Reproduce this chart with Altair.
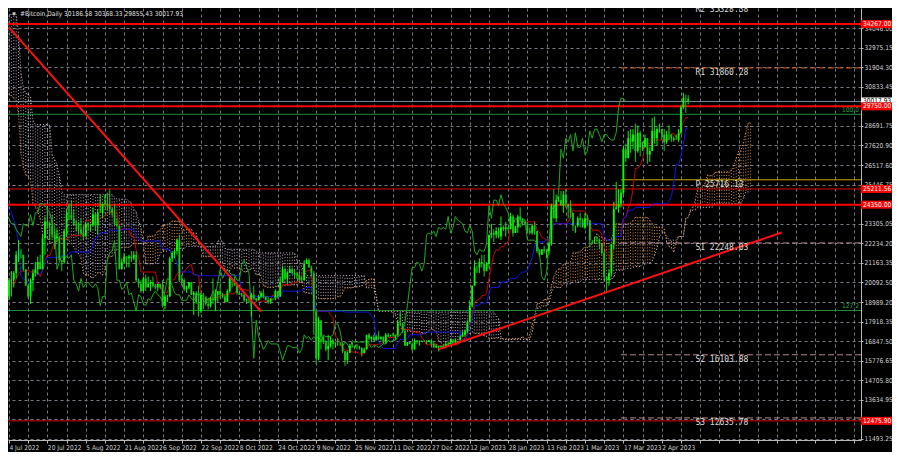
import altair as alt
import pandas as pd

# ---------------- daily bars, thousands of USD: (high, low, close) ----------------
# open of each bar = close of the previous bar (24/7 market)
APR22 = [(40.7,39.6,39.7),(41.0,38.6,40.8),(41.7,40.6,41.5),(42.2,40.9,41.4),(42.9,39.8,40.5),(40.8,39.2,39.7),(39.9,39.4,39.5),
         (39.9,39.0,39.5),(40.6,38.2,40.4),(40.8,37.8,38.1),(39.5,37.9,39.2),(40.4,38.9,39.7),(39.9,38.3,38.6),(38.8,37.6,37.7)]
MAY22 = [(38.7,37.4,38.5),(39.1,38.0,38.5),(38.6,37.5,37.7),(39.9,37.7,39.7),(39.8,35.8,36.6),(36.6,35.3,36.0),(36.1,34.8,35.5),
         (35.5,33.7,34.0),(34.2,30.0,30.1),(32.6,29.8,31.0),(32.0,27.7,29.0),(30.0,26.7,29.0),(30.9,28.8,29.3),(30.3,28.7,30.1),
         (31.4,29.5,31.3),(31.3,29.1,29.9),(30.8,29.5,30.4),(30.6,28.7,28.7),(30.5,28.7,30.3),(30.7,28.8,29.2),(29.6,29.0,29.4),
         (30.4,29.2,30.3),(30.6,28.9,29.1),(29.8,28.7,29.6),(30.1,29.3,29.5),(29.8,28.0,29.2),(29.4,28.3,28.6),(29.2,28.5,29.0),
         (29.5,28.8,29.4),(32.2,29.3,31.7),(32.2,31.2,31.8)]
JUN22 = [(31.9,29.6,29.8),(30.6,29.6,30.4),(30.6,29.5,29.7),(29.9,29.5,29.9),(30.1,29.5,29.9),(31.7,29.9,31.4),(31.5,29.2,31.1),
         (31.3,29.9,30.2),(30.6,29.9,30.1),(30.3,28.9,29.1),(29.4,28.2,28.4),(28.5,26.6,26.6),(26.9,22.4,22.5),(23.3,20.8,22.2),
         (22.7,20.1,22.6),(22.9,20.2,20.4),(21.3,20.3,20.5),(20.8,17.6,19.0),(20.7,18.0,20.6),(21.0,19.6,20.6),(21.7,20.4,20.7),
         (20.9,19.8,20.0),(21.2,19.9,21.1),(21.5,20.9,21.2),(21.6,20.9,21.5),(21.9,20.9,21.0),(21.5,20.5,20.7),(21.2,20.2,20.3),
         (20.4,19.9,20.1),(20.2,18.7,19.8)]
JUL22 = [(20.8,19.0,19.3),(19.4,19.0,19.3),(19.6,19.0,19.3),(20.3,19.1,20.2),(20.7,19.3,20.2),(20.7,19.8,20.6),(21.8,20.3,21.6),
         (22.4,21.2,21.6),(21.9,21.4,21.6),(21.6,20.7,20.8),(20.8,19.9,19.9),(20.0,19.2,19.3),(20.3,18.9,20.2),(20.8,19.6,20.6),
         (21.2,20.4,20.8),(21.5,20.5,21.2),(21.6,20.8,20.8),(22.7,20.8,22.5),(23.7,21.6,23.4),(24.2,23.0,23.2),(23.4,22.4,23.2),
         (23.8,22.5,22.7),(22.9,21.9,22.5),(23.0,22.3,22.6),(22.6,21.3,21.3),(21.3,20.7,21.2),(23.0,21.1,22.9),(24.1,22.6,23.8),
         (24.4,23.5,23.8),(24.6,23.5,23.6),(24.1,23.2,23.3)]
AUG22 = [(23.5,22.9,23.3),(23.4,22.7,23.0),(23.6,22.7,22.8),(23.2,22.4,22.6),(23.4,22.6,23.3),(23.4,22.9,23.2),(23.3,22.9,23.2),
         (24.2,23.2,23.8),(23.9,22.9,23.2),(24.1,22.7,23.9),(24.9,23.9,23.9),(24.4,23.6,24.4),(24.9,24.3,24.4),(25.0,24.0,24.3),
         (25.2,23.8,24.1),(24.2,23.7,23.9),(24.4,23.2,23.3),(23.6,23.1,23.2),(23.2,20.8,20.8),(21.4,20.8,21.2),(21.7,21.1,21.5),
         (21.5,20.9,21.4),(21.6,20.9,21.5),(21.8,21.2,21.4),(21.8,21.3,21.6),(21.8,20.1,20.2),(20.3,19.8,20.0),(20.2,19.5,19.6),
         (20.4,19.6,20.3),(20.5,19.6,19.8),(20.4,19.9,20.0)]
SEP22 = [(20.2,19.6,20.1),(20.4,19.8,19.9),(20.0,19.7,19.8),(20.0,19.6,20.0),(20.0,19.7,19.8),(20.2,18.7,18.8),(19.4,18.6,19.3),
         (19.4,19.0,19.3),(21.5,19.3,21.4),(21.8,21.2,21.7),(21.9,21.4,21.8),(22.5,21.6,22.4),(22.7,20.1,20.2),(20.5,19.9,20.2),
         (20.3,19.6,19.7),(19.9,19.5,19.8),(20.1,19.7,20.1),(20.1,19.4,19.4),(19.6,18.3,19.5),(19.6,18.9,19.0),(19.9,18.2,18.5),
         (19.5,18.4,19.4),(19.5,18.6,19.3),(19.3,18.8,18.9),(19.2,18.6,18.8),(19.3,18.7,19.2),(20.3,18.9,19.1),(19.7,18.5,19.4),
         (19.6,19.0,19.6),(20.1,19.2,19.4)]
OCT22 = [(19.5,19.2,19.3),(19.4,19.0,19.0),(19.7,19.0,19.6),(20.4,19.5,20.3),(20.3,19.8,20.2),(20.4,19.9,19.9),(20.0,19.4,19.5),
         (19.6,19.4,19.4),(19.5,19.3,19.4),(19.5,19.0,19.1),(19.2,18.9,19.1),(19.2,19.0,19.1),(19.5,18.2,19.4),(19.9,19.1,19.2),
         (19.2,19.0,19.1),(19.4,19.1,19.3),(19.6,19.2,19.5),(19.7,19.2,19.3),(19.3,19.1,19.1),(19.3,18.9,19.0),(19.2,18.9,19.2),
         (19.2,19.1,19.2),(19.7,19.1,19.6),(19.6,19.2,19.3),(20.4,19.3,20.1),(21.0,20.1,20.8),(20.9,20.2,20.3),(20.7,20.0,20.6),
         (21.0,20.6,20.8),(20.9,20.5,20.6),(20.8,20.3,20.5)]
NOV22 = [(20.6,20.3,20.5),(20.7,20.1,20.2),(20.4,20.1,20.2),(21.3,20.2,21.1),(21.4,21.1,21.3),(21.4,20.9,20.9),(21.0,20.4,20.6),
         (20.7,17.2,18.5),(18.6,15.6,15.9),(18.2,15.8,18.0),(17.7,16.4,17.1),(17.1,16.7,16.8),(16.9,16.3,16.4),(17.2,15.8,16.6),
         (17.1,16.5,16.9),(17.0,16.4,16.7),(16.8,16.5,16.7),(17.0,16.6,16.7),(16.8,16.6,16.7),(16.8,16.2,16.3),(16.3,15.5,15.8),
         (16.3,15.6,16.2),(16.7,16.2,16.6),(16.8,16.5,16.6),(16.6,16.4,16.5),(16.7,16.4,16.5),(16.6,16.4,16.5),(16.5,16.0,16.2),
         (16.5,16.2,16.4),(17.2,16.4,17.2)]
DEC22 = [(17.3,16.9,17.0),(17.1,16.8,17.1),(17.2,16.9,16.9),(17.2,16.9,17.1),(17.4,16.9,17.0),(17.1,16.9,17.1),(17.1,16.7,16.8),
         (17.3,16.7,17.2),(17.3,17.1,17.1),(17.2,17.1,17.1),(17.3,17.1,17.1),(17.2,16.9,17.2),(18.0,17.1,17.8),(18.4,17.7,17.8),
         (17.8,17.3,17.4),(17.5,16.6,16.6),(16.8,16.6,16.8),(16.8,16.7,16.7),(16.8,16.3,16.4),(17.0,16.4,16.9),(16.9,16.7,16.8),
         (16.9,16.6,16.8),(16.9,16.8,16.8),(16.9,16.8,16.8),(16.9,16.7,16.8),(16.9,16.8,16.9),(16.9,16.6,16.7),(16.8,16.5,16.5),
         (16.7,16.5,16.6),(16.6,16.3,16.6),(16.6,16.5,16.5)]
JAN23 = [(16.6,16.5,16.6),(16.8,16.5,16.7),(16.8,16.6,16.7),(17.0,16.7,16.9),(16.9,16.8,16.8),(17.0,16.7,16.9),(16.9,16.9,16.9),
         (17.2,16.9,17.1),(17.4,17.1,17.2),(17.5,17.1,17.4),(18.0,17.3,17.9),(19.1,17.9,18.8),(19.9,18.7,19.9),(21.3,19.9,20.9),
         (21.0,20.6,20.9),(21.4,20.6,21.2),(21.6,20.9,21.1),(21.6,20.4,20.7),(21.2,20.7,21.1),(22.7,20.9,22.7),(23.3,22.5,22.8),
         (23.0,22.3,22.7),(23.1,22.5,22.9),(23.1,22.5,22.6),(23.7,22.4,23.1),(23.2,22.9,23.0),(23.4,22.6,23.1),(23.1,22.9,23.0),
         (23.9,23.0,23.7),(23.8,22.6,22.8),(23.2,22.8,23.1)]
FEB23 = [(23.8,22.8,23.7),(24.2,23.4,23.5),(23.6,23.2,23.4),(23.5,23.3,23.3),(23.4,22.8,22.9),(23.1,22.7,22.8),(23.3,22.7,23.2),
         (23.4,22.7,22.9),(22.9,21.7,21.8),(21.9,21.5,21.6),(21.9,21.6,21.9),(22.1,21.7,21.8),(21.9,21.4,21.8),(22.3,21.6,22.2),
         (24.4,22.1,24.3),(25.2,23.6,23.6),(24.9,23.4,24.6),(24.8,24.5,24.6),(25.1,24.3,24.3),(25.1,23.9,24.9),(25.2,24.2,24.4),
         (24.4,23.6,24.2),(24.6,23.6,23.9),(23.9,22.9,23.2),(23.2,22.8,23.2),(23.7,23.1,23.6),(23.9,23.1,23.5),(23.6,23.1,23.1)]
MAR23 = [(23.9,23.0,23.6),(23.8,23.2,23.5),(23.5,22.0,22.4),(22.4,22.2,22.4),(22.6,22.2,22.4),(22.6,22.3,22.4),(22.5,21.9,22.2),
         (22.2,21.6,21.7),(21.8,20.1,20.4),(20.3,19.6,20.2),(20.8,19.9,20.6),(22.2,20.4,22.2),(24.5,21.9,24.1),(25.6,24.1,24.2),
         (25.2,23.9,24.4),(25.2,24.2,25.0),(27.6,24.9,27.4),(27.7,26.7,26.9),(28.4,26.9,28.0),(28.5,27.2,27.8),(28.5,27.4,28.2),
         (28.8,26.7,27.3),(28.7,27.2,28.3),(28.4,27.0,27.5),(27.8,27.3,27.5),(28.2,27.5,28.0),(28.0,26.6,27.1),(27.5,26.7,27.3),
         (29.1,27.3,28.4),(29.2,27.7,28.0),(28.6,27.6,28.5)]
APR23 = [(28.8,28.3,28.5),(28.5,27.9,28.2),(28.5,27.3,27.8),(28.4,27.7,28.2),(28.7,27.9,28.2),(28.2,27.8,28.0),(28.1,27.8,27.9),
         (28.2,27.9,27.9),(28.5,27.8,28.3),(29.8,28.2,29.7),(30.5,29.6,30.2),(30.4,29.4,30.18658),(30.36833,29.85543,30.01793)]

FIRST_BAR_DATE = "2022-04-17"
AXIS_ORIGIN_DATE = "2022-07-04"

# horizontal levels drawn across the chart
LEVEL_PRICES = [34267.00, 29750.00, 25211.56, 24350.00, 12475.90]
LEVEL_KIND = ["major", "major", "minor", "major", "minor"]
BID_PRICE = 30017.93
FIB_NAMES = ["100.0", "127.2"]
FIB_PRICES = [29312.0, 18537.0]

# pivot points
PIVOT_NAMES = ["R2", "R1", "P", "S1", "S2", "S3"]
PIVOT_PRICES = [35328.38, 31860.28, 25716.13, 22248.03, 16103.88, 12635.78]
PIVOT_KIND = ["R", "R", "P", "S", "S", "S"]
PIVOT_FROM = "2023-03-16"
PIVOT_LABEL_AT = "2023-04-16"
CHART_END = "2023-06-24"

# trend lines: (date, price) endpoints
TREND_DATES = [("2022-07-04", "2022-10-17"), ("2022-12-30", "2023-05-22")]
TREND_PRICES = [(34090, 18480), (16400, 22820)]

Y_TICKS = [11493.25, 12564.10, 13634.95, 14705.80, 15776.65, 16847.50, 17918.35, 18989.20, 20092.50,
           21163.35, 22234.20, 23305.05, 24376.00, 25446.75, 26517.60, 27620.90, 28691.75, 29762.60,
           30833.45, 31904.30, 32975.15, 34046.00]
TITLE = "#Bitcoin,Daily  30186.58 30368.33 29855.43 30017.93"

# ---------------- build tables ----------------
origin = pd.Timestamp(AXIS_ORIGIN_DATE)
def day(s):
    return (pd.Timestamp(s) - origin).days

rows = [b for m in [APR22, MAY22, JUN22, JUL22, AUG22, SEP22, OCT22, NOV22, DEC22, JAN23, FEB23, MAR23, APR23] for b in m]
d0 = day(FIRST_BAR_DATE)
hi = pd.Series([r[0] * 1000 for r in rows])
lo = pd.Series([r[1] * 1000 for r in rows])
cl = pd.Series([r[2] * 1000 for r in rows])
op = cl.shift(1).fillna(cl.iloc[0])
dd = pd.Series(range(len(rows))) + d0

bars = pd.DataFrame({"d": dd, "o": op, "h": hi, "l": lo, "c": cl})
bars["up"] = bars.c >= bars.o
bars = bars[bars.d >= -2]
bars_up = bars[bars.up]
bars_dn = bars[~bars.up]

tenkan = (hi.rolling(9).max() + lo.rolling(9).min()) / 2
kijun = (hi.rolling(26).max() + lo.rolling(26).min()) / 2
span_a = (tenkan + kijun) / 2
span_b = (hi.rolling(52).max() + lo.rolling(52).min()) / 2

tenkan_df = pd.DataFrame({"d": dd, "v": tenkan}).dropna()
kijun_df = pd.DataFrame({"d": dd, "v": kijun}).dropna()
chikou_df = pd.DataFrame({"d": dd - 26, "v": cl})
tenkan_df = tenkan_df[tenkan_df.d >= -2]
kijun_df = kijun_df[kijun_df.d >= -2]
chikou_df = chikou_df[chikou_df.d >= -2]

cloud = pd.DataFrame({"d": dd + 26, "a": span_a, "b": span_b}).dropna()
cloud = cloud[cloud.d >= -2]
cloud_bull = cloud[cloud.a >= cloud.b]
cloud_bear = cloud[cloud.a < cloud.b]

levels_major = pd.DataFrame({"p": [p for p, k in zip(LEVEL_PRICES, LEVEL_KIND) if k == "major"]})
levels_minor = pd.DataFrame({"p": [p for p, k in zip(LEVEL_PRICES, LEVEL_KIND) if k == "minor"]})
bid_df = pd.DataFrame({"p": [BID_PRICE]})
fibs = pd.DataFrame({"p": FIB_PRICES, "t": FIB_NAMES})

piv = pd.DataFrame({"p": PIVOT_PRICES, "kind": PIVOT_KIND,
                    "t": [f"{n} {v:.2f}" for n, v in zip(PIVOT_NAMES, PIVOT_PRICES)]})
piv["d0"] = day(PIVOT_FROM)
piv["d1"] = day(CHART_END)
piv["dl"] = day(PIVOT_LABEL_AT)

trend = pd.DataFrame({"d0": [day(a) for a, b in TREND_DATES], "d1": [day(b) for a, b in TREND_DATES],
                      "p0": [a for a, b in TREND_PRICES], "p1": [b for a, b in TREND_PRICES]})

level_boxes = pd.DataFrame({"p": LEVEL_PRICES, "t": [f"{v:.2f}" for v in LEVEL_PRICES]})
bid_box = pd.DataFrame({"p": [BID_PRICE], "t": [f"{BID_PRICE:.2f}"]})
title_df = pd.DataFrame({"t": [TITLE]})

# ---------------- scales / axes ----------------
W, H = 853, 432
FONT = "DejaVu Sans Condensed, Liberation Sans Narrow, Liberation Sans, sans-serif"
FS = 6.6
T0 = int(origin.tz_localize("UTC").timestamp() * 1000)
xs = alt.Scale(domain=[-0.4, day(CHART_END)], nice=False, zero=False)
ys = alt.Scale(domain=[11424, 35151], nice=False, zero=False)
x_axis = alt.Axis(values=list(range(0, 356, 8)), orient="bottom", title=None,
                  labelExpr=f"(datum.value % 16 == 0 && datum.value <= 272) ? utcFormat({T0} + datum.value * 86400000, '%-d %b %Y') : ''",
                  labelAlign="left", labelPadding=1, labelFont=FONT, labelFontSize=FS,
                  labelColor="#d0d0d0", labelOverlap=False, labelFlush=False,
                  grid=True, gridColor="#767b84", gridDash=[3, 3], gridWidth=1,
                  domainColor="#b8b8b8", tickColor="#b8b8b8", tickSize=3)
y_axis = alt.Axis(values=Y_TICKS, orient="right", title=None, format=".2f",
                  labelFont=FONT, labelFontSize=FS, labelColor="#d0d0d0", labelPadding=1,
                  labelOverlap=False, labelFlush=False,
                  grid=True, gridColor="#767b84", gridDash=[3, 3], gridWidth=1,
                  domainColor="#b8b8b8", tickColor="#b8b8b8", tickSize=2)

def X(f):
    return alt.X(f, type="quantitative", scale=xs, axis=x_axis)

def Y(f):
    return alt.Y(f, type="quantitative", scale=ys, axis=y_axis)

# ---------------- layers ----------------
SANDY, THISTLE = "#F4A460", "#D8BFD8"
bull_rules = alt.Chart(cloud_bull).mark_rule(strokeDash=[1, 2], strokeWidth=1, opacity=0.85, color=SANDY,
                                             clip=True).encode(x=X("d"), y=Y("a"), y2="b")
bear_rules = alt.Chart(cloud_bear).mark_rule(strokeDash=[1, 2], strokeWidth=1, opacity=0.85, color=THISTLE,
                                             clip=True).encode(x=X("d"), y=Y("a"), y2="b")
edge_a = alt.Chart(cloud).mark_line(strokeDash=[1, 2], strokeWidth=1, color=SANDY, clip=True).encode(x=X("d"), y=Y("a"))
edge_b = alt.Chart(cloud).mark_line(strokeDash=[1, 2], strokeWidth=1, color=THISTLE, clip=True).encode(x=X("d"), y=Y("b"))

fib_rules = alt.Chart(fibs).mark_rule(color="#1F8F3A", strokeWidth=1, clip=True).encode(y=Y("p"))
fib_text = alt.Chart(fibs).mark_text(align="right", baseline="bottom", dy=-1, font=FONT, fontSize=FS,
                                     color="#2FA84A").encode(x=alt.value(W - 2), y=Y("p"), text="t:N")
bid_rule = alt.Chart(bid_df).mark_rule(color="#7B8A9C", strokeWidth=1, clip=True).encode(y=Y("p"))
major_rules = alt.Chart(levels_major).mark_rule(color="#FF0000", strokeWidth=2, clip=True).encode(y=Y("p"))
minor_rules = alt.Chart(levels_minor).mark_rule(color="#E00000", strokeWidth=1, clip=True).encode(y=Y("p"))

pivot_r = alt.Chart(piv[piv.kind == "R"]).mark_rule(strokeDash=[6, 3], strokeWidth=1, color="#D8642A", clip=True).encode(
    x=X("d0"), x2="d1", y=Y("p"))
pivot_s = alt.Chart(piv[piv.kind == "S"]).mark_rule(strokeDash=[6, 3], strokeWidth=1, color="#B48686", clip=True).encode(
    x=X("d0"), x2="d1", y=Y("p"))
pivot_p = alt.Chart(piv[piv.kind == "P"]).mark_rule(strokeWidth=1, color="#C9A800", clip=True).encode(
    x=X("d0"), x2="d1", y=Y("p"))
pivot_text = alt.Chart(piv).mark_text(align="left", baseline="top", dy=1, font="DejaVu Sans Mono", fontSize=8,
                                      color="#dcdcdc", clip=True).encode(x=X("dl"), y=Y("p"), text="t:N")

tenkan_line = alt.Chart(tenkan_df).mark_line(strokeWidth=1, color="#D00000", clip=True).encode(x=X("d"), y=Y("v"))
kijun_line = alt.Chart(kijun_df).mark_line(strokeWidth=1, color="#1414E6", clip=True).encode(x=X("d"), y=Y("v"))
chikou_line = alt.Chart(chikou_df).mark_line(strokeWidth=1, color="#1DAA1D", clip=True).encode(x=X("d"), y=Y("v"))

UPC, DNC = "#00FF00", "#19C819"
wick_up = alt.Chart(bars_up).mark_rule(strokeWidth=1, color=UPC, clip=True).encode(x=X("d"), y=Y("l"), y2="h")
wick_dn = alt.Chart(bars_dn).mark_rule(strokeWidth=1, color=DNC, clip=True).encode(x=X("d"), y=Y("l"), y2="h")
body_up = alt.Chart(bars_up).mark_rule(strokeWidth=1.8, color=UPC, clip=True).encode(x=X("d"), y=Y("o"), y2="c")
body_dn = alt.Chart(bars_dn).mark_rule(strokeWidth=1.8, color=DNC, clip=True).encode(x=X("d"), y=Y("o"), y2="c")

trend_lines = alt.Chart(trend).mark_rule(strokeWidth=2, color="#FF1010", clip=True).encode(
    x=X("d0"), x2="d1", y=Y("p0"), y2="p1")

BOX_H = 8
lvl_bg = alt.Chart(level_boxes).mark_rule(strokeWidth=BOX_H, color="#FF0000").encode(
    x=alt.value(W), x2=alt.value(W + 31), y=Y("p"))
lvl_txt = alt.Chart(level_boxes).mark_text(align="left", baseline="middle", font=FONT, fontSize=FS,
                                           color="#FFFFFF").encode(x=alt.value(W + 2), y=Y("p"), text="t:N")
bid_bg = alt.Chart(bid_box).mark_rule(strokeWidth=BOX_H, color="#FFFFFF").encode(
    x=alt.value(W), x2=alt.value(W + 31), y=Y("p"))
bid_txt = alt.Chart(bid_box).mark_text(align="left", baseline="middle", font=FONT, fontSize=FS,
                                       color="#000000").encode(x=alt.value(W + 2), y=Y("p"), text="t:N")

title = alt.Chart(title_df).mark_text(align="left", baseline="middle", font=FONT, fontSize=FS,
                                      color="#e0e0e0").encode(x=alt.value(12), y=alt.value(6), text="t:N")
tri = alt.Chart(title_df).mark_text(align="left", baseline="middle", fontSize=6, color="#e0e0e0",
                                    text="\u25BC").encode(x=alt.value(3), y=alt.value(6))

chart = alt.layer(
    bull_rules, bear_rules, edge_a, edge_b, fib_rules, fib_text, bid_rule, minor_rules, major_rules,
    pivot_r, pivot_s, pivot_p, tenkan_line, kijun_line, chikou_line,
    wick_up, wick_dn, body_up, body_dn, trend_lines, pivot_text,
    bid_bg, bid_txt, lvl_bg, lvl_txt, title, tri
).properties(
    width=W, height=H,
    autosize=alt.AutoSizeParams(type="none"),
    padding={"left": 0, "top": 0, "right": 31, "bottom": 12},
    background="#000000",
).configure_view(stroke=None)

chart.save("out.html", embed_options={"renderer": "svg", "actions": False})
